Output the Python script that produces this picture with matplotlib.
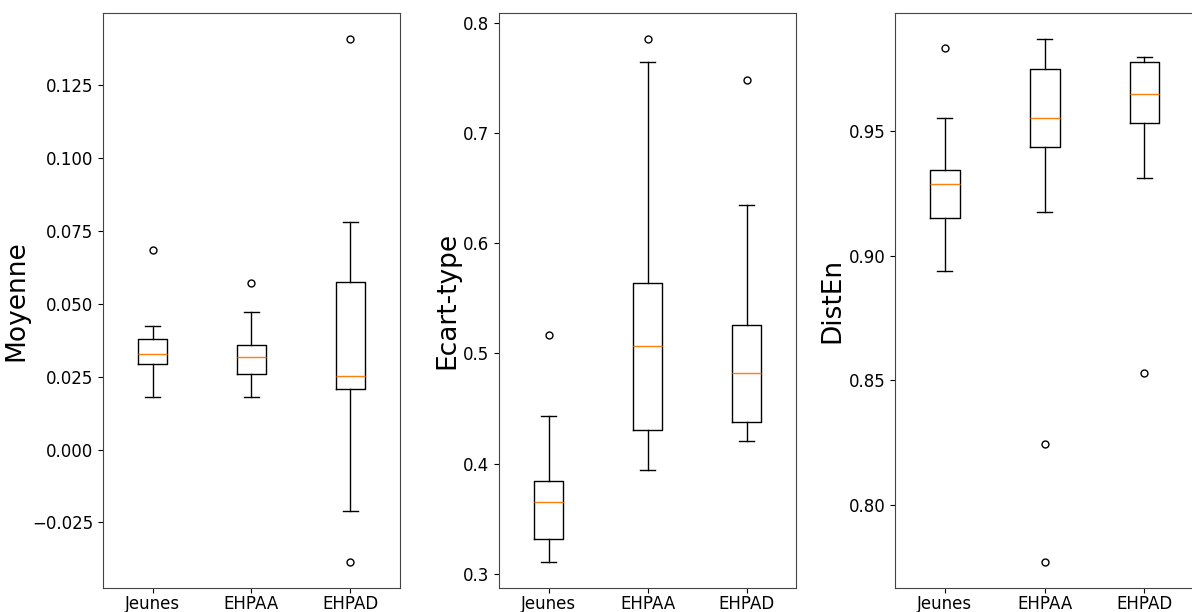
import matplotlib
matplotlib.use("Agg")
import matplotlib.pyplot as plt

groups = ["Jeunes", "EHPAA", "EHPAD"]

# Moyenne: whislo, q1, med, q3, whishi, fliers
moy_whislo = [0.0179, 0.0179, -0.0209]
moy_q1 = [0.0292, 0.0258, 0.0206]
moy_med = [0.0326, 0.0316, 0.0251]
moy_q3 = [0.0378, 0.0360, 0.0573]
moy_whishi = [0.0422, 0.0470, 0.0780]
moy_fliers = [[0.0683], [0.0570], [0.1407, -0.0385]]

# Ecart-type
ect_whislo = [0.311, 0.394, 0.421]
ect_q1 = [0.332, 0.431, 0.438]
ect_med = [0.365, 0.507, 0.482]
ect_q3 = [0.384, 0.564, 0.526]
ect_whishi = [0.443, 0.764, 0.635]
ect_fliers = [[0.517], [0.785], [0.748]]

# DistEn
de_whislo = [0.894, 0.9176, 0.9312]
de_q1 = [0.9152, 0.9436, 0.9532]
de_med = [0.9288, 0.9552, 0.9648]
de_q3 = [0.9344, 0.9748, 0.9776]
de_whishi = [0.9552, 0.9868, 0.9796]
de_fliers = [[0.9832], [0.8244, 0.7772], [0.8528]]


def make_stats(whislo, q1, med, q3, whishi, fliers):
    return [
        dict(label=g, whislo=a, q1=b, med=c, q3=d, whishi=e, fliers=f)
        for g, a, b, c, d, e, f in zip(groups, whislo, q1, med, q3, whishi, fliers)
    ]


panels = [
    ("Moyenne", make_stats(moy_whislo, moy_q1, moy_med, moy_q3, moy_whishi, moy_fliers), [-0.025, 0.0, 0.025, 0.05, 0.075, 0.1, 0.125]),
    ("Ecart-type", make_stats(ect_whislo, ect_q1, ect_med, ect_q3, ect_whishi, ect_fliers), [0.3, 0.4, 0.5, 0.6, 0.7, 0.8]),
    ("DistEn", make_stats(de_whislo, de_q1, de_med, de_q3, de_whishi, de_fliers), [0.8, 0.85, 0.9, 0.95]),
]

fig = plt.figure(figsize=(11.92, 6.12), dpi=100)
lefts = [103 / 1192, 499 / 1192, 895 / 1192]
width = 297 / 1192
bottom = 24 / 612
height = 575 / 612

for left, (label, stats, ticks) in zip(lefts, panels):
    ax = fig.add_axes([left, bottom, width + (0.002 if left > 0.7 else 0), height])
    ax.bxp(stats, flierprops=dict(marker="o", markersize=5, markerfacecolor="none"))
    ax.set_ylabel(label, fontsize=19, labelpad=2)
    ax.set_yticks(ticks)
    ax.tick_params(labelsize=12)
    ax.tick_params(axis="x", pad=1.5)
    for s in ax.spines.values():
        s.set_color("#444444")

fig.savefig("out.png", dpi=100)
